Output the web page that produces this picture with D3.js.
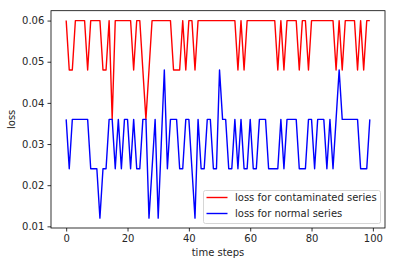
<!DOCTYPE html>
<html>
<head>
<meta charset="utf-8">
<script src="https://cdn.jsdelivr.net/npm/d3@7"></script>
<style>
  body { margin: 0; background: #fff; }
  svg { display: block; }
  text { font-family: "DejaVu Sans", sans-serif; }
</style>
</head>
<body>
<svg id="canvas" width="395" height="266"></svg>
<script>
const contaminated = [
  0.06, 0.048, 0.048, 0.06, 0.06, 0.06, 0.06, 0.048, 0.06, 0.06,
  0.06, 0.06, 0.048, 0.048, 0.06, 0.036, 0.06, 0.06, 0.06, 0.06,
  0.06, 0.06, 0.048, 0.06, 0.06, 0.048, 0.036, 0.048, 0.06, 0.06,
  0.06, 0.06, 0.06, 0.06, 0.06, 0.048, 0.048, 0.048, 0.06, 0.048,
  0.06, 0.06, 0.048, 0.06, 0.06, 0.06, 0.06, 0.06, 0.06, 0.06,
  0.06, 0.06, 0.06, 0.06, 0.06, 0.06, 0.048, 0.06, 0.048, 0.06,
  0.06, 0.06, 0.06, 0.06, 0.06, 0.06, 0.06, 0.06, 0.06, 0.048,
  0.06, 0.048, 0.06, 0.06, 0.06, 0.06, 0.048, 0.06, 0.06, 0.048,
  0.06, 0.06, 0.06, 0.06, 0.06, 0.06, 0.06, 0.06, 0.048, 0.06,
  0.048, 0.06, 0.06, 0.06, 0.06, 0.048, 0.06, 0.048, 0.06, 0.06
]
const normal = [
  0.036, 0.024, 0.036, 0.036, 0.036, 0.036, 0.036, 0.036, 0.024, 0.024,
  0.024, 0.012, 0.024, 0.024, 0.036, 0.036, 0.024, 0.036, 0.024, 0.036,
  0.036, 0.024, 0.036, 0.024, 0.024, 0.036, 0.036, 0.012, 0.024, 0.036,
  0.012, 0.030, 0.048, 0.024, 0.036, 0.036, 0.036, 0.024, 0.024, 0.036,
  0.036, 0.024, 0.012, 0.036, 0.024, 0.024, 0.036, 0.036, 0.024, 0.024,
  0.048, 0.036, 0.036, 0.024, 0.024, 0.036, 0.024, 0.036, 0.024, 0.024,
  0.036, 0.024, 0.024, 0.036, 0.036, 0.036, 0.024, 0.024, 0.024, 0.024,
  0.036, 0.024, 0.036, 0.036, 0.036, 0.036, 0.024, 0.024, 0.024, 0.036,
  0.036, 0.024, 0.036, 0.036, 0.036, 0.024, 0.036, 0.024, 0.036, 0.048,
  0.036, 0.036, 0.036, 0.036, 0.036, 0.036, 0.024, 0.024, 0.024, 0.036
]
const xTicks = [0, 20, 40, 60, 80, 100]
const yTicks = [0.01, 0.02, 0.03, 0.04, 0.05, 0.06]
const seriesNames = ["loss for contaminated series", "loss for normal series"]
const seriesColors = ["#ff0000", "#0000ff"]

const svg = d3.select("#canvas")
const margin = { left: 51, right: 10, top: 10.7, bottom: 38 }
const width = 395 - margin.left - margin.right
const height = 266 - margin.top - margin.bottom
const fs = 10

const g = svg.append("g").attr("transform", `translate(${margin.left},${margin.top})`)

// matplotlib style 5% margins
const n = contaminated.length
const xPad = (n - 1) * 0.05
const allVals = contaminated.concat(normal)
const yMin = d3.min(allVals), yMax = d3.max(allVals)
const yPad = (yMax - yMin) * 0.05

const x = d3.scaleLinear().domain([-xPad, n - 1 + xPad]).range([0, width])
const y = d3.scaleLinear().domain([yMin - yPad, yMax + yPad]).range([height, 0])

const xAxis = g.append("g")
  .attr("transform", `translate(0,${height})`)
  .call(d3.axisBottom(x).tickValues(xTicks).tickSize(3.5).tickPadding(3).tickFormat(d3.format("d")))
const yAxis = g.append("g")
  .call(d3.axisLeft(y).tickValues(yTicks).tickSize(3.5).tickPadding(3.2).tickFormat(d3.format(".2f")))

;[xAxis, yAxis].forEach(a => {
  a.select(".domain").remove()
  a.selectAll(".tick line").attr("stroke", "#000").attr("stroke-width", 0.8)
  a.selectAll(".tick text").attr("fill", "#262626").style("font-size", fs + "px").style("font-family", "DejaVu Sans")
})

const line = d3.line().x((d, i) => x(i)).y(d => y(d))

;[contaminated, normal].forEach((s, k) => {
  g.append("path")
    .datum(s)
    .attr("fill", "none")
    .attr("stroke", seriesColors[k])
    .attr("stroke-width", 1.4)
    .attr("stroke-linejoin", "round")
    .attr("d", line)
})

g.append("rect")
  .attr("width", width).attr("height", height)
  .attr("fill", "none").attr("stroke", "#000").attr("stroke-width", 0.8)

svg.append("text")
  .attr("x", margin.left + width / 2).attr("y", 256)
  .attr("text-anchor", "middle")
  .attr("fill", "#262626")
  .style("font-size", fs + "px")
  .text("time steps")

svg.append("text")
  .attr("transform", `translate(15,${margin.top + height / 2}) rotate(-90)`)
  .attr("text-anchor", "middle")
  .attr("fill", "#262626")
  .style("font-size", fs + "px")
  .text("loss")

const legend = svg.append("g").attr("transform", "translate(203.5,190.5)")
legend.append("rect")
  .attr("width", 177).attr("height", 33)
  .attr("rx", 2).attr("ry", 2)
  .attr("fill", "#fff").attr("fill-opacity", 0.8)
  .attr("stroke", "#cccccc").attr("stroke-width", 0.8)

seriesNames.forEach((name, k) => {
  const yy = 7 + k * 16
  legend.append("line")
    .attr("x1", 3).attr("x2", 24)
    .attr("y1", yy).attr("y2", yy)
    .attr("stroke", seriesColors[k]).attr("stroke-width", 1.4)
  legend.append("text")
    .attr("x", 31.5).attr("y", yy + 3.6)
    .attr("fill", "#262626")
    .style("font-size", fs + "px")
    .text(name)
})
</script>
</body>
</html>
